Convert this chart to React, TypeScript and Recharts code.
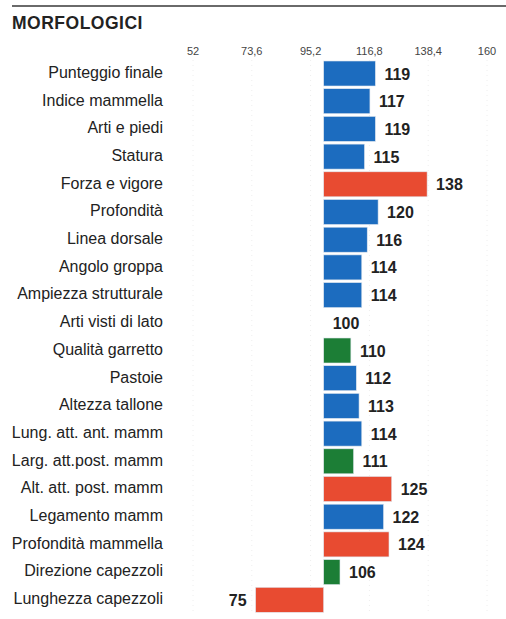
import React from "react";
import { BarChart, Bar, XAxis, YAxis, CartesianGrid } from "recharts";

const categories = [
  "Punteggio finale",
  "Indice mammella",
  "Arti e piedi",
  "Statura",
  "Forza e vigore",
  "Profondità",
  "Linea dorsale",
  "Angolo groppa",
  "Ampiezza strutturale",
  "Arti visti di lato",
  "Qualità garretto",
  "Pastoie",
  "Altezza tallone",
  "Lung. att. ant. mamm",
  "Larg. att.post. mamm",
  "Alt. att. post. mamm",
  "Legamento mamm",
  "Profondità mammella",
  "Direzione capezzoli",
  "Lunghezza capezzoli",
];

const values = [119, 117, 119, 115, 138, 120, 116, 114, 114, 100, 110, 112, 113, 114, 111, 125, 122, 124, 106, 75];

const colorGroups = [
  "blue", "blue", "blue", "blue", "red", "blue", "blue", "blue", "blue", "blue",
  "green", "blue", "blue", "blue", "green", "red", "blue", "red", "green", "red",
];

const xTicks = [52, 73.6, 95.2, 116.8, 138.4, 160];
const baseline = 100;

const palette: Record<string, string> = {
  blue: "#1c6cbf",
  red: "#e84b31",
  green: "#1c7e36",
};

const data = categories.map((name, i) => ({
  name,
  value: values[i],
  group: colorGroups[i],
}));

const FONT = "'Liberation Sans', Arial, sans-serif";

const BarShape = (props: any) => {
  const { x, y, width, height, payload } = props;
  const left = Math.min(x, x + width);
  const w = Math.abs(width);
  const v = payload.value;
  const positive = v >= baseline;
  const tx = positive ? left + w + 9 : left - 9;
  return (
    <g>
      {w > 0 && (
        <rect x={left} y={y} width={w} height={height} fill={palette[payload.group]} stroke="#dfe6ee" strokeWidth={0.6} />
      )}
      <text
        x={tx}
        y={y + height / 2 + 6}
        textAnchor={positive ? "start" : "end"}
        fontFamily={FONT}
        fontWeight="bold"
        fontSize={16}
        fill="#222"
      >
        {v}
      </text>
    </g>
  );
};

const XTick = (props: any) => {
  const { x, payload } = props;
  return (
    <text x={x} y={55} textAnchor="middle" fontFamily={FONT} fontSize={11} fill="#444">
      {String(payload.value).replace(".", ",")}
    </text>
  );
};

const YTick = (props: any) => {
  const { y, payload } = props;
  return (
    <text x={163} y={y + 4} textAnchor="end" fontFamily={FONT} fontSize={16} fill="#222">
      {payload.value}
    </text>
  );
};

export default function App() {
  return (
    <div style={{ position: "absolute", left: 0, top: 0, width: 506, height: 619, background: "#fff", overflow: "hidden" }}>
      <div style={{ position: "absolute", left: 12, top: 5, width: 494, height: 2, background: "#6a6a6a" }} />
      <div
        style={{
          position: "absolute",
          left: 12,
          top: 13,
          fontFamily: FONT,
          fontWeight: "bold",
          fontSize: 17.5,
          letterSpacing: 0.5,
          color: "#222",
          lineHeight: "20px",
        }}
      >
        MORFOLOGICI
      </div>
      <div style={{ position: "absolute", left: 0, top: 0 }}>
        <BarChart
          width={506}
          height={619}
          data={data}
          layout="vertical"
          margin={{ top: 36, right: 19, bottom: 5, left: 0 }}
          barSize={25}
        >
          <CartesianGrid horizontal={false} vertical={true} stroke="#eeeeee" strokeDasharray="1 4" />
          <XAxis
            type="number"
            orientation="top"
            domain={[52, 160]}
            ticks={xTicks}
            allowDataOverflow
            axisLine={false}
            tickLine={false}
            height={24}
            tick={<XTick />}
            interval={0}
          />
          <YAxis
            type="category"
            dataKey="name"
            width={193}
            axisLine={false}
            tickLine={false}
            tick={<YTick />}
            interval={0}
          />
          <Bar
            dataKey={(d: any) => (d.value >= baseline ? [baseline, d.value] : [d.value, baseline])}
            isAnimationActive={false}
            shape={<BarShape />}
          />
        </BarChart>
      </div>
    </div>
  );
}
